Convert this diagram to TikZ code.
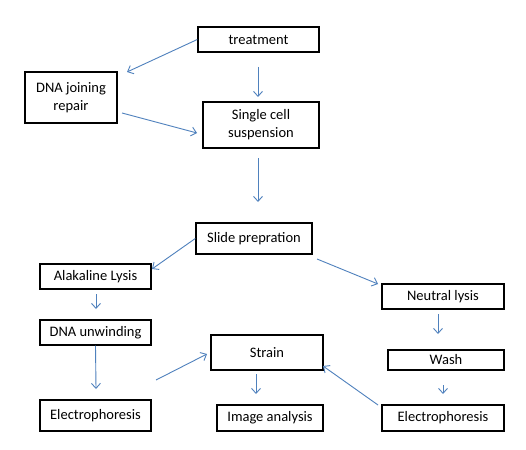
\documentclass[tikz,border=0pt]{standalone}
\usepackage{fontspec}
\setmainfont{Carlito}
\usetikzlibrary{arrows.meta}
\definecolor{arrowblue}{RGB}{79,129,189}
\begin{document}
\begin{tikzpicture}[x=1pt,y=-1pt,
  box/.style={draw=black,line width=1.4pt,inner sep=0pt,align=center,
    font=\fontsize{14.5}{18}\selectfont},
  conn/.style={draw=arrowblue,line width=0.9pt,-{Straight Barb[length=5pt,width=9pt]}}]
\useasboundingbox (0,0) rectangle (526,449);
\fill[white] (0,0) rectangle (526,449);
\node[box,minimum width=121pt,minimum height=25pt] (treat) at (258.5,39.5) {treatment};
\node[box,minimum width=92pt,minimum height=51pt] (dna) at (71,97.5) {DNA joining\\repair};
\node[box,minimum width=116pt,minimum height=46pt] (single) at (261,125) {Single cell\\suspension};
\node[box,minimum width=116pt,minimum height=31pt] (slide) at (254,238.5) {Slide prepration};
\node[box,minimum width=111pt,minimum height=25pt] (alk) at (95.5,276.5) {Alakaline Lysis};
\node[box,minimum width=122pt,minimum height=25pt] (neutral) at (443,296.5) {Neutral lysis};
\node[box,minimum width=111pt,minimum height=25pt] (unwind) at (95.5,332.5) {DNA unwinding};
\node[box,minimum width=112pt,minimum height=35pt] (strain) at (267,352.5) {Strain};
\node[box,minimum width=116pt,minimum height=20pt] (wash) at (446,360) {Wash};
\node[box,minimum width=111pt,minimum height=31pt] (elL) at (95.5,415.5) {Electrophoresis};
\node[box,minimum width=106pt,minimum height=26pt] (image) at (270,418) {Image analysis};
\node[box,minimum width=122pt,minimum height=26pt] (elR) at (443,418) {Electrophoresis};
% free ends of connectors
\coordinate (c1) at (127,72);
\coordinate (c2a) at (258,67);   \coordinate (c2b) at (258,97);
\coordinate (c3a) at (122,113);  \coordinate (c3b) at (197,133);
\coordinate (c4a) at (258,158);  \coordinate (c4b) at (258,202);
\coordinate (c5) at (152,269);
\coordinate (c6a) at (317,259);  \coordinate (c6b) at (378,284);
\coordinate (c7a) at (96,294);   \coordinate (c7b) at (96,309);
\coordinate (c8) at (96,389);
\coordinate (c9a) at (156,380);  \coordinate (c9b) at (207,354);
\coordinate (c10a) at (256,374); \coordinate (c10b) at (256,394);
\coordinate (c11a) at (438,314); \coordinate (c11b) at (438,334);
\coordinate (c12a) at (443,385); \coordinate (c12b) at (443,394);
\coordinate (c13a) at (378,405); \coordinate (c13b) at (323,366);
\draw[conn] (treat.west) -- (c1);
\draw[conn] (c2a) -- (c2b);
\draw[conn] (c3a) -- (c3b);
\draw[conn] (c4a) -- (c4b);
\draw[conn] (slide.west) -- (c5);
\draw[conn] (c6a) -- (c6b);
\draw[conn] (c7a) -- (c7b);
\draw[conn] (unwind.south) -- (c8);
\draw[conn] (c9a) -- (c9b);
\draw[conn] (c10a) -- (c10b);
\draw[conn] (c11a) -- (c11b);
\draw[conn] (c12a) -- (c12b);
\draw[conn] (c13a) -- (c13b);
\end{tikzpicture}
\end{document}
